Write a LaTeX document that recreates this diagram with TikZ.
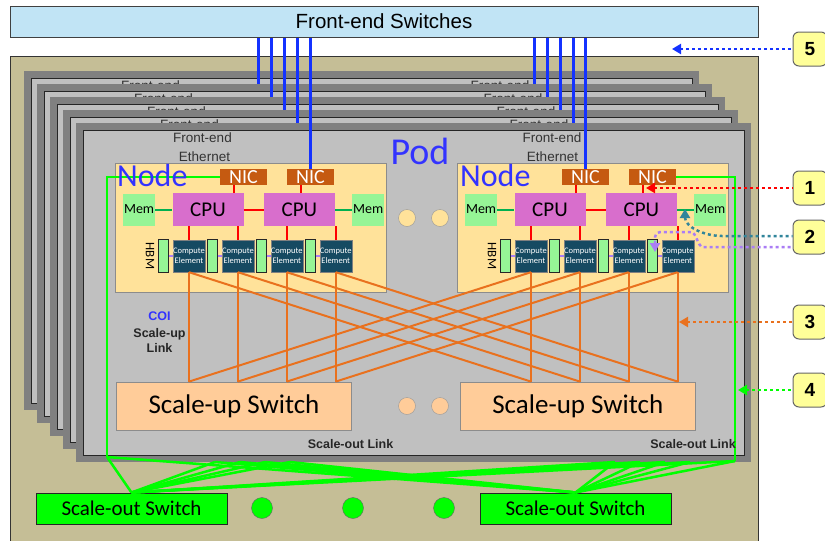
\documentclass[tikz,border=0pt]{standalone}
\usepackage{fontspec}
\setmainfont{Carlito}
\newfontfamily\arialfont{Liberation Sans}
\usetikzlibrary{shapes,arrows,arrows.meta,positioning,calc}

\definecolor{podbeige}{RGB}{197,190,150}
\definecolor{bandgray}{RGB}{128,128,128}
\definecolor{layergray}{RGB}{192,192,192}
\definecolor{feblue}{RGB}{193,228,245}
\definecolor{nodeyellow}{RGB}{255,226,154}
\definecolor{nicbrown}{RGB}{197,90,17}
\definecolor{cpupink}{RGB}{216,110,204}
\definecolor{memgreen}{RGB}{150,245,150}
\definecolor{ceteal}{RGB}{22,74,98}
\definecolor{supeach}{RGB}{255,204,153}
\definecolor{linkorange}{RGB}{233,113,30}
\definecolor{linkgreen}{RGB}{0,255,0}
\definecolor{memline}{RGB}{0,176,80}
\definecolor{textblue}{RGB}{51,51,255}
\definecolor{lineblue}{RGB}{20,50,255}
\definecolor{calyellow}{RGB}{255,255,153}
\definecolor{calteal}{RGB}{49,133,155}
\definecolor{calpurple}{RGB}{170,125,245}

\begin{document}
\begin{tikzpicture}[x=1pt, y=-1pt,
  fesw/.style={rectangle, draw=black!75, line width=1pt, fill=feblue, minimum width=748pt, minimum height=31pt, font=\arialfont\fontsize{20.5}{20.5}\selectfont},
  podlayer/.style={rectangle, draw=black!85, line width=0.8pt, fill=layergray},
  nodebox/.style={rectangle, draw=black!45, line width=0.8pt, fill=nodeyellow, minimum width=271pt, minimum height=129pt},
  nic/.style={rectangle, fill=nicbrown, text=white, minimum width=47pt, minimum height=16pt, inner sep=0pt, font=\fontsize{20}{20}\selectfont},
  cpu/.style={rectangle, fill=cpupink, minimum width=71pt, minimum height=33pt, inner sep=0pt, font=\fontsize{21}{21}\selectfont},
  mem/.style={rectangle, fill=memgreen, minimum size=32pt, inner sep=0pt, font=\fontsize{14}{14}\selectfont},
  ce/.style={rectangle, fill=ceteal, draw=black!50, text=white, minimum size=32pt, inner sep=0pt, align=center, font=\fontsize{8.5}{10}\selectfont},
  hbm/.style={rectangle, draw=black!85, line width=0.8pt, fill=memgreen, minimum width=10pt, minimum height=33pt, inner sep=0pt},
  suswitch/.style={rectangle, draw=black!45, line width=0.8pt, fill=supeach, minimum width=235pt, minimum height=48pt, font=\fontsize{27}{27}\selectfont},
  soswitch/.style={rectangle, draw=black!85, line width=1pt, fill=linkgreen, minimum width=191pt, minimum height=31pt, font=\fontsize{21}{21}\selectfont},
  gapdot/.style={circle, draw=black!40, minimum size=17pt, inner sep=0pt},
  numbox/.style={rectangle, rounded corners=6pt, draw=black!60, line width=1pt, fill=calyellow, minimum size=34pt, inner sep=0pt, font=\arialfont\bfseries\fontsize{19}{19}\selectfont},
  lbl/.style={font=\arialfont\fontsize{13.5}{13.5}\selectfont, text=black!80, inner sep=0pt},
  boldlbl/.style={font=\arialfont\bfseries\fontsize{12.5}{15}\selectfont, text=black!85, inner sep=0pt, align=center},
  redlink/.style={red, line width=2pt},
  memlink/.style={memline, line width=2pt},
  orangelink/.style={linkorange, line width=2pt},
  greenlink/.style={linkgreen, line width=2.5pt},
  bluelink/.style={lineblue, line width=2.5pt},
  calarrow/.style={{Triangle[length=9pt,width=10pt]}-, line width=2.5pt, dash pattern=on 3pt off 3pt}
]
  \useasboundingbox (0,0) rectangle (825,541);

  % cabinet and front-end switches
  \fill[podbeige] (10,56) rectangle (758,541);
  \draw[black!80, line width=1pt] (10,541) |- (758,56) -- (758,541);
  \node[fesw] (fesw) at (384,21.5) {Front-end Switches};

  % pods stacked behind
  \foreach \k in {4,3,2,1} {
    \fill[bandgray] (76-13*\k,123-13*\k) rectangle (751-13*\k,462-13*\k);
    \draw[podlayer] (83-13*\k,130-13*\k) rectangle (744-13*\k,455-13*\k);
    \node[lbl] (backfeL\k) at (202.5-13*\k,138-13*\k) {Front-end};
    \node[lbl] (backfeR\k) at (552-13*\k,138-13*\k) {Front-end};
    \coordinate (backnicL) at (310.5-13*\k,169-13*\k);
    \coordinate (backnicR) at (586.5-13*\k,169-13*\k);
    \draw[bluelink] (fesw.south -| backnicL) -- (backnicL);
    \draw[bluelink] (fesw.south -| backnicR) -- (backnicR);
  }

  % front pod
  \fill[bandgray] (76,123) rectangle (751,462);
  \node[podlayer, minimum width=661pt, minimum height=325pt] (pod) at (413.5,292.5) {};
  \node[lbl] (feL) at (202.5,138) {Front-end};
  \node[lbl] (ethL) at (204.5,157) {Ethernet};
  \node[lbl] (feR) at (552,138) {Front-end};
  \node[lbl] (ethR) at (552.5,157) {Ethernet};
  \node[font=\fontsize{38}{38}\selectfont, text=textblue] (podlbl) at (420,151) {Pod};

  % the two nodes
  \foreach \s/\dx in {L/0,R/342} {
    \node[nodebox] (node\s) at (250.5+\dx,227.5) {};
    \node[nic] (nic\s1) at (243.5+\dx,177) {NIC};
    \node[nic] (nic\s2) at (310.5+\dx,177) {NIC};
    \node[cpu] (cpu\s1) at (208+\dx,209.5) {CPU};
    \node[cpu, right=20pt of cpu\s1] (cpu\s2) {CPU};
    \node[mem, left=17pt of cpu\s1] (mem\s1) {Mem};
    \node[mem, right=17pt of cpu\s2] (mem\s2) {Mem};
    \node[ce] (ce\s1) at (189+\dx,256) {Compute\\Element};
    \node[ce, right=16.5pt of ce\s1] (ce\s2) {Compute\\Element};
    \node[ce, right=16.5pt of ce\s2] (ce\s3) {Compute\\Element};
    \node[ce, right=16.5pt of ce\s3] (ce\s4) {Compute\\Element};
    \node[rotate=-90, font=\fontsize{13}{13}\selectfont, inner sep=0pt] (hbmlbl\s) at (150+\dx,256) {HBM};
    \draw[memlink] (mem\s1) -- (cpu\s1);
    \draw[memlink] (cpu\s2) -- (mem\s2);
    \draw[redlink] (cpu\s1) -- (cpu\s2);
    \foreach \i/\cp in {1/1,2/1,3/2,4/2} {
      \node[hbm, left=4pt of ce\s\i] (hbm\s\i) {};
      \draw[calpurple, line width=1.5pt] (hbm\s\i) -- (ce\s\i);
      \draw[redlink] (ce\s\i.north |- cpu\s\cp.south) -- (ce\s\i.north);
    }
    \foreach \m in {1,2} {
      \coordinate (nicdn\s\m) at ($(nic\s\m.south west)+(14,0)$);
      \draw[redlink] (nicdn\s\m) -- (nicdn\s\m |- cpu\s\m.north);
    }
  }
  \node[gapdot, fill=nodeyellow] (dotN1) at (407,218) {};
  \node[gapdot, fill=nodeyellow] (dotN2) at (440,218) {};

  % front-end ethernet of the front pod
  \draw[bluelink] (fesw.south -| nicL2) -- (nicL2.north);
  \draw[bluelink] (fesw.south -| nicR1) -- (nicR1.north);

  % scale-up
  \node[suswitch] (suL) at (234,406) {Scale-up Switch};
  \node[suswitch, right=108pt of suL] (suR) {Scale-up Switch};
  \node[gapdot, fill=supeach] (dotS1) at (407,406) {};
  \node[gapdot, fill=supeach] (dotS2) at (440,406) {};
  \foreach \i in {1,...,4} {
    \draw[orangelink] (ceL\i.south) -- (ceL\i.south |- suL.north);
    \draw[orangelink] (ceL\i.south) -- (ceR\i.south |- suR.north);
    \draw[orangelink] (ceR\i.south) -- (ceR\i.south |- suR.north);
    \draw[orangelink] (ceR\i.south) -- (ceL\i.south |- suL.north);
  }

  % scale-out
  \node[soswitch] (soL) at (131.5,508.5) {Scale-out Switch};
  \node[soswitch] (soR) at (575.5,508.5) {Scale-out Switch};
  \node[gapdot, fill=linkgreen, draw=black!60, minimum size=21pt] (dotO1) at (262,508) {};
  \node[gapdot, fill=linkgreen, draw=black!60, minimum size=21pt] (dotO2) at (353,508) {};
  \node[gapdot, fill=linkgreen, draw=black!60, minimum size=21pt] (dotO3) at (444,508) {};
  \coordinate (cornL) at (107,457);
  \coordinate (cornR) at (735,461);
  \coordinate (fL1) at (215,462);
  \coordinate (fL2) at (240,462);
  \coordinate (fL3) at (265,462);
  \coordinate (fL4) at (290,462);
  \coordinate (fR1) at (615,462);
  \coordinate (fR2) at (640,462);
  \coordinate (fR3) at (665,462);
  \coordinate (fR4) at (690,462);
  \draw[greenlink] (nicL1.west) -| (cornL);
  \draw[greenlink] (nicR2.east) -| (cornR);
  \foreach \src in {cornL,cornR,fL1,fL2,fL3,fL4,fR1,fR2,fR3,fR4} {
    \draw[greenlink] (\src) -- (soL.north);
    \draw[greenlink] (\src) -- (soR.north);
  }

  % labels
  \node[font=\fontsize{32}{32}\selectfont, text=textblue, anchor=base west, inner sep=0pt] (nodelblL) at (117,186) {Node};
  \node[font=\fontsize{32}{32}\selectfont, text=textblue, anchor=base west, inner sep=0pt] (nodelblR) at (460,186) {Node};
  \node[boldlbl, text=textblue] (coi) at (159.5,316) {COI};
  \node[boldlbl] (sulink) at (159.5,340.5) {Scale-up\\Link};
  \node[boldlbl] (solinkL) at (350.5,444) {Scale-out Link};
  \node[boldlbl] (solinkR) at (693,444) {Scale-out Link};

  % callouts
  \node[numbox] (c5) at (810,49) {5};
  \node[numbox] (c1) at (810,188) {1};
  \node[numbox] (c2) at (810,237) {2};
  \node[numbox] (c3) at (810,322) {3};
  \node[numbox] (c4) at (810,390) {4};
  \coordinate (tip5) at (672,49);
  \coordinate (tip1) at (646,188);
  \coordinate (tip3) at (679,322);
  \coordinate (tip4) at (738,390);
  \coordinate (tip2a) at (685,209);
  \coordinate (tip2b) at (655,252);
  \draw[calarrow, lineblue] (tip5) -- (c5.west);
  \draw[calarrow, red] (tip1) -- (c1.west);
  \draw[calarrow, linkorange] (tip3) -- (c3.west);
  \draw[calarrow, linkgreen] (tip4) -- (c4.west);
  \draw[calarrow, calteal] (tip2a) to[out=-90, in=180] (722,236) -- ($(c2.west)+(0,-1)$);
  \draw[calarrow, calpurple, rounded corners=5pt] (tip2b) -- (655,232) -- (686,232) to[out=0, in=180] (708,247) -- ($(c2.west)+(0,10)$);
\end{tikzpicture}
\end{document}
